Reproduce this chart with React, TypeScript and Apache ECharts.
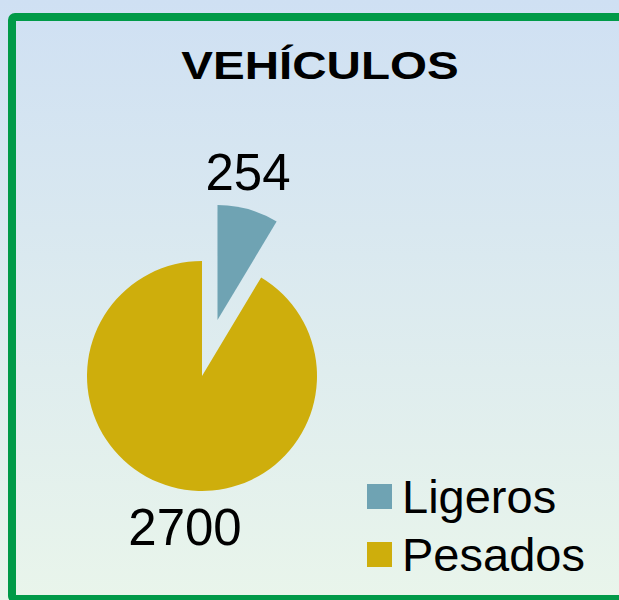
import React, { useEffect, useRef } from "react";
import * as echarts from "echarts";

const title = "VEHÍCULOS";
const categories = ["Ligeros", "Pesados"];
const values = [254, 2700];
const colors = ["#6fa3b3", "#ceae0c"];

const CX = 202;
const CY = 376;
const R = 115;

export default function App() {
  const ref = useRef<HTMLDivElement>(null);
  useEffect(() => {
    if (!ref.current) return;
    const chart = echarts.init(ref.current, undefined, { renderer: "svg" });
    const FONT = "Liberation Sans, Arial, sans-serif";
    const labelOffsets = [
      [46, -204],
      [-17, 151],
    ];
    const legendText = {
      fontFamily: FONT,
      fontSize: 47,
      lineHeight: 33,
      color: "#000",
      padding: [0, 0, 0, 5],
    };
    const valueLabels = values.map((v, i) => ({
      type: "text",
      x: CX + labelOffsets[i][0],
      y: CY + labelOffsets[i][1],
      style: {
        text: String(v),
        fontFamily: FONT,
        fontSize: 51,
        fill: "#000",
        align: "center",
        verticalAlign: "middle",
      },
      silent: true,
    }));
    chart.setOption({
      animation: false,
      backgroundColor: {
        type: "linear",
        x: 0,
        y: 0,
        x2: 0,
        y2: 1,
        colorStops: [
          { offset: 0, color: "#cfe0f3" },
          { offset: 1, color: "#e9f5eb" },
        ],
      },
      graphic: [
        {
          type: "rect",
          shape: { x: 12, y: 17, width: 640, height: 582, r: 3 },
          style: { fill: "none", stroke: "#009a48", lineWidth: 8 },
          silent: true,
        },
        {
          type: "text",
          x: 320,
          y: 66,
          scaleX: 1.22,
          style: {
            text: title,
            fontFamily: FONT,
            fontWeight: "bold",
            fontSize: 39,
            fill: "#000",
            align: "center",
            verticalAlign: "middle",
          },
          silent: true,
        },
        ...valueLabels,
      ],
      legend: [
        {
          orient: "vertical",
          left: 362,
          top: 468,
          padding: 5,
          itemWidth: 25,
          itemHeight: 25,
          icon: "rect",
          selectedMode: false,
          textStyle: legendText,
          data: [categories[0]],
        },
        {
          orient: "vertical",
          left: 362,
          top: 526,
          padding: 5,
          itemWidth: 25,
          itemHeight: 25,
          icon: "rect",
          selectedMode: false,
          textStyle: legendText,
          data: [categories[1]],
        },
      ],
      series: [
        {
          type: "pie",
          center: [CX, CY],
          radius: R,
          startAngle: 90,
          clockwise: true,
          selectedMode: "single",
          selectedOffset: 58,
          emphasis: { disabled: true },
          label: { show: false },
          labelLine: { show: false },
          data: categories.map((name, i) => ({
            name,
            value: values[i],
            selected: i === 0,
            itemStyle: { color: colors[i] },
          })),
        },
      ],
    });
    return () => chart.dispose();
  }, []);
  return (
    <div
      ref={ref}
      style={{ position: "absolute", left: 0, top: 0, width: 619, height: 600 }}
    />
  );
}
